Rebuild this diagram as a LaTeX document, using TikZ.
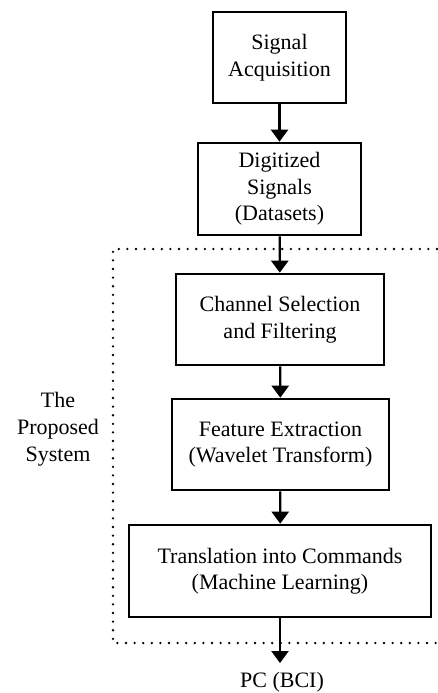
\documentclass[tikz,border=0pt]{standalone}
\usepackage{fontspec}
\setmainfont{Liberation Serif}
\usetikzlibrary{arrows.meta}
\begin{document}
\begin{tikzpicture}[x=1pt,y=-1pt,
  stagebox/.style={draw, line width=2.6pt, rectangle, align=center, inner sep=0pt,
    font=\fontsize{22}{26.5}\selectfont},
  flow/.style={line width=2.3pt, -{Triangle[width=17pt,length=12pt]}},
  frame/.style={line width=2.6pt, line cap=round, dash pattern=on 0pt off 8.6pt},
  plain/.style={align=center, font=\fontsize{22}{27}\selectfont}]
\useasboundingbox (0,0) rectangle (437,693);

% processing stages
\node[stagebox, minimum width=133pt, minimum height=91pt] (acq) at (279.5,57.5) {Signal\\Acquisition};
\node[stagebox, minimum width=163pt, minimum height=92pt] (dig) at (279.5,189) {Digitized\\Signals\\(Datasets)};
\node[stagebox, minimum width=208pt, minimum height=91pt] (sel) at (280,319.5) {Channel Selection\\and Filtering};
\node[stagebox, minimum width=217pt, minimum height=91pt] (feat) at (280.5,444.5) {Feature Extraction\\(Wavelet Transform)};
\node[stagebox, minimum width=302pt, minimum height=92pt] (trans) at (280,571) {Translation into Commands\\(Machine Learning)};

% output and side label
\node[plain, anchor=base, inner sep=0pt] (pc) at (282,687.5) {PC (BCI)};
\node[plain] (sys) at (58,429) {The\\Proposed\\System};

% dotted boundary of the proposed system
\coordinate (ftr) at (437,249);
\coordinate (ftl) at (113,249);
\coordinate (fbl) at (113,643);
\coordinate (fbr) at (437,643);
\draw[frame] (ftr) -- (ftl) -- (fbl) -- (fbr);

% connectors
\draw[flow] (acq) -- (dig);
\draw[flow] (dig) -- (sel);
\draw[flow] (sel) -- (feat);
\draw[flow] (feat) -- (trans);
\draw[flow, shorten >=9pt] (trans.south) -- (trans.south |- pc.north);
\end{tikzpicture}
\end{document}
